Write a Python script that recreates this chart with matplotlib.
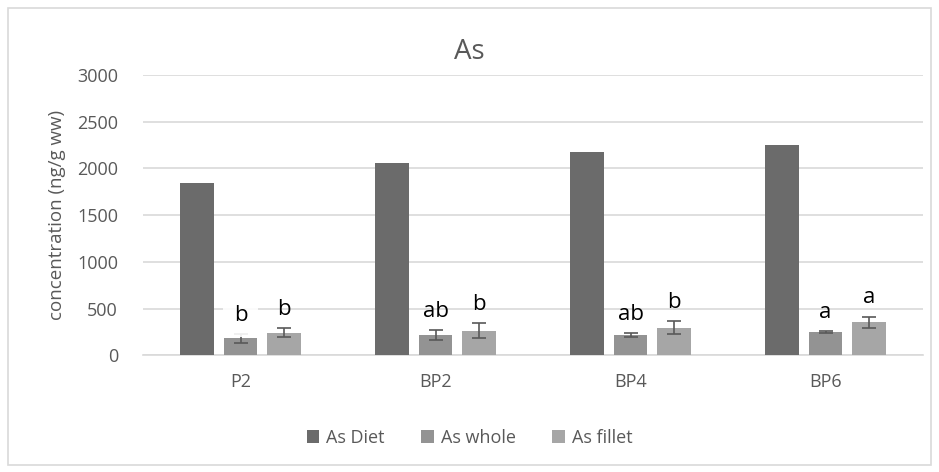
import matplotlib.pyplot as plt
import numpy as np
from matplotlib.patches import Rectangle

categories = ['P2', 'BP2', 'BP4', 'BP6']
diet = [1843, 2057, 2181, 2253]
whole = [182, 217, 214, 250]
whole_err = [45, 53, 22, 8]
fillet = [242, 264, 296, 353]
fillet_err = [47, 80, 68, 60]
whole_letters = ['b', 'ab', 'ab', 'a']
fillet_letters = ['b', 'b', 'b', 'a']

plt.rcParams['font.family'] = ['Open Sans', 'DejaVu Sans']
grey_txt = '#595959'

fig = plt.figure(figsize=(9.39, 4.72), dpi=100)
ax = fig.add_axes([0.1523, 0.2472, 0.8307, 0.5938])

x = np.arange(len(categories))
step = 0.222
w = 0.174

ax.bar(x - step, diet, w, color='#6b6b6b', label='As Diet', zorder=3)
ax.bar(x, whole, w, color='#939393', label='As whole', zorder=3)
ax.bar(x + step, fillet, w, color='#a6a6a6', label='As fillet', zorder=3)
ax.errorbar(x, whole, yerr=whole_err, fmt='none', ecolor='#595959',
            elinewidth=1.2, capsize=5, capthick=1.2, zorder=4)
ax.errorbar(x + step, fillet, yerr=fillet_err, fmt='none', ecolor='#595959',
            elinewidth=1.2, capsize=5, capthick=1.2, zorder=4)

# significance letters
for i in range(len(categories)):
    bb = None
    if i == 0:
        bb = dict(facecolor='white', edgecolor='none', pad=8, alpha=0.9)
    ax.text(x[i], whole[i] + whole_err[i] + 90, whole_letters[i], ha='center',
            va='bottom', fontsize=16, color='black', zorder=5, bbox=bb)
    ax.text(x[i] + step, fillet[i] + fillet_err[i] + 90, fillet_letters[i],
            ha='center', va='bottom', fontsize=16, color='black', zorder=5)

ax.set_xlim(-0.5, 3.5)
ax.set_ylim(0, 3000)
ax.set_yticks(range(0, 3001, 500))
ax.set_xticks(x)
ax.set_xticklabels(categories)
ax.yaxis.grid(True, color='#d9d9d9', linewidth=1.2, zorder=0)
ax.tick_params(length=0, labelsize=13, colors=grey_txt)
ax.tick_params(axis='y', pad=18)
ax.tick_params(axis='x', pad=13)
for s in ['top', 'right', 'left']:
    ax.spines[s].set_visible(False)
ax.spines['bottom'].set_color('#d9d9d9')
ax.spines['bottom'].set_linewidth(1.2)

ax.set_ylabel('concentration (ng/g ww)', fontsize=13.5, color=grey_txt, labelpad=8)
fig.text(0.5, 0.89, 'As', ha='center', va='center', fontsize=20, color=grey_txt)

fig.legend(loc='center', bbox_to_anchor=(0.5, 0.073), ncol=3, frameon=False,
           fontsize=13, labelcolor=grey_txt, handlelength=0.7, handleheight=0.7,
           handletextpad=0.4, columnspacing=2.0)

fig.patches.append(Rectangle((0.008, 0.015), 0.984, 0.968, transform=fig.transFigure,
                             fill=False, edgecolor='#d9d9d9', linewidth=1.2))

fig.savefig('out.png', dpi=100)
